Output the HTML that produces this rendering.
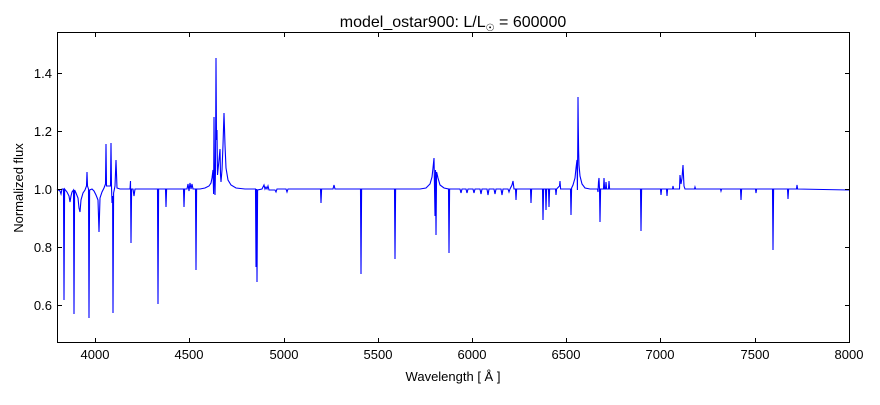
<!DOCTYPE html>
<html><head><style>
body{margin:0;background:#fff;}
svg text{font-family:"Liberation Sans",sans-serif;}
</style></head><body>
<svg width="880" height="400" xmlns="http://www.w3.org/2000/svg">
<rect width="880" height="400" fill="#fff"/>
<g stroke="#00f" stroke-width="1.1" fill="none">
<path d="M57,189 L60,191 L61,194 L62,189 L63.5,189 L64,300 L64.6,189 L67,192 L69,196 L70,202 L71,196 L72,192 L73.5,190 L74,314 L74.6,190 L76,193 L78,198 L79,208 L80,212 L81,200 L83,193 L85,190 L86.5,186 L87,172 L87.5,186 L88.5,189 L89,318 L89.6,190 L92,189 L94,191 L96,195 L98,200 L99,232 L100,198 L102,192 L104,188 L105.5,184 L106,144 L106.5,186 L110.5,186 L111,143 L111.5,187 L112,203 L112.6,196 L113,313 L113.6,193 L115,186 L116,160 L117,188 L120,189 L130,189 L130.5,181 L131,243 L131.6,189 L133,189 L134,196 L135,189 L157.5,189 L158,304 L158.6,189 L165.5,189 L166,207 L166.6,189 L183.5,189 L184,207 L184.6,189 L187,189 L188,184 L189,191 L190,183 L191,189 L192,184 L193,189 L195.5,189 L196,270 L196.6,189 L200,189 L205,188 L209,186 L211,183 L212,178 L213,170 L213.6,194 L214,117 L214.5,175 L215,195 L215.5,170 L216,58 L216.5,140 L217,130 L217.5,175 L218,170 L219,160 L220,149 L220.5,175 L221,182 L222,170 L223,145 L224,113 L225,145 L226,168 L228,180 L231,185 L236,188 L245,189 L255.5,189 L256,267 L256.6,189 L257,282 L257.6,190 L262,189 L264,185 L265,189 L266,187 L267,189 L268,186 L269,190 L275,190 L276,192 L277,189 L286,189 L287,192 L288,189 L320.5,189 L321,203 L321.6,189 L333,189 L334,185 L335,189 L360.5,189 L361,274 L361.6,189 L394.5,189 L395,259 L395.6,189 L420,189 L426,188 L430,184 L432,177 L433,168 L434,158 L435,216 L435.5,170 L436,235 L436.6,172 L438,178 L440,185 L444,188 L448.5,189 L449,253 L449.6,189 L460,189 L461,193 L462,189 L466,189 L467,193 L468,189 L473,189 L474,193 L475,189 L480,189 L481,194 L482,189 L487,189 L488,195 L489,189 L494,189 L495,194 L496,189 L501,189 L502,195 L503,189 L508,189 L509,192 L510,189 L512,185 L513,181 L514,189 L515.5,189 L516,200 L516.6,189 L530.5,189 L531,203 L531.6,189 L542.5,189 L543,220 L543.6,189 L545.5,189 L546,210 L546.6,189 L548.5,189 L549,207 L549.6,189 L555.5,189 L556,195 L556.6,189 L559.5,186 L560,181 L560.6,189 L570.5,189 L571,215 L571.6,188 L573,185 L575,178 L576,168 L577,160 L577.4,190 L577.8,140 L578,97 L578.3,128 L578.6,150 L579,165 L580,176 L582,184 L585,188 L590,189 L597.5,189 L598,192 L598.5,182 L599,178 L599.5,189 L600,222 L600.6,189 L603.5,189 L604,178 L604.6,189 L605.5,189 L606,182 L606.6,189 L608.5,189 L609,181 L609.6,189 L640.5,189 L641,231 L641.6,189 L660.5,189 L661,195 L661.6,189 L666.5,189 L667,196 L667.6,189 L672.5,189 L673,186 L673.6,189 L679.5,189 L680,175 L681,184 L682,178 L683,165 L684,186 L685,189 L694.5,189 L695,187 L695.6,189 L720.5,189 L721,191 L721.6,189 L740.5,189 L741,200 L741.6,189 L755.5,189 L756,193 L756.6,189 L772.5,189 L773,250 L773.6,189 L787.5,189 L788,199 L788.6,189 L796.5,189 L797,185 L797.6,189 L849,190"/>
</g>
<g stroke="#000" stroke-width="1" fill="none">
<rect x="57.5" y="32.5" width="792" height="310"/>
<path d="M95.5,342 v-4 M95.5,33 v4 M189.5,342 v-4 M189.5,33 v4 M284.5,342 v-4 M284.5,33 v4 M378.5,342 v-4 M378.5,33 v4 M472.5,342 v-4 M472.5,33 v4 M566.5,342 v-4 M566.5,33 v4 M660.5,342 v-4 M660.5,33 v4 M755.5,342 v-4 M755.5,33 v4"/>
<path d="M58,305.5 h4 M849,305.5 h-4 M58,247.5 h4 M849,247.5 h-4 M58,189.5 h4 M849,189.5 h-4 M58,131.5 h4 M849,131.5 h-4 M58,73.5 h4 M849,73.5 h-4"/>
</g>
<g font-size="13" fill="#000" text-anchor="middle">
<text x="95" y="359">4000</text><text x="189" y="359">4500</text><text x="284" y="359">5000</text><text x="378" y="359">5500</text><text x="472" y="359">6000</text><text x="566" y="359">6500</text><text x="660" y="359">7000</text><text x="755" y="359">7500</text><text x="849" y="359">8000</text>
</g>
<g font-size="13" fill="#000" text-anchor="end">
<text x="52" y="310">0.6</text><text x="52" y="252">0.8</text><text x="52" y="194">1.0</text><text x="52" y="136">1.2</text><text x="52" y="78">1.4</text>
</g>
<text x="453" y="381" font-size="13" text-anchor="middle">Wavelength [ Å ]</text>
<text x="23" y="188" font-size="13" text-anchor="middle" transform="rotate(-90 23 188)">Normalized flux</text>
<text x="453" y="27" font-size="16" text-anchor="middle">model_ostar900: L/L<tspan font-size="10" dy="4">☉</tspan><tspan dy="-4"> = 600000</tspan></text>
</svg>
</body></html>
